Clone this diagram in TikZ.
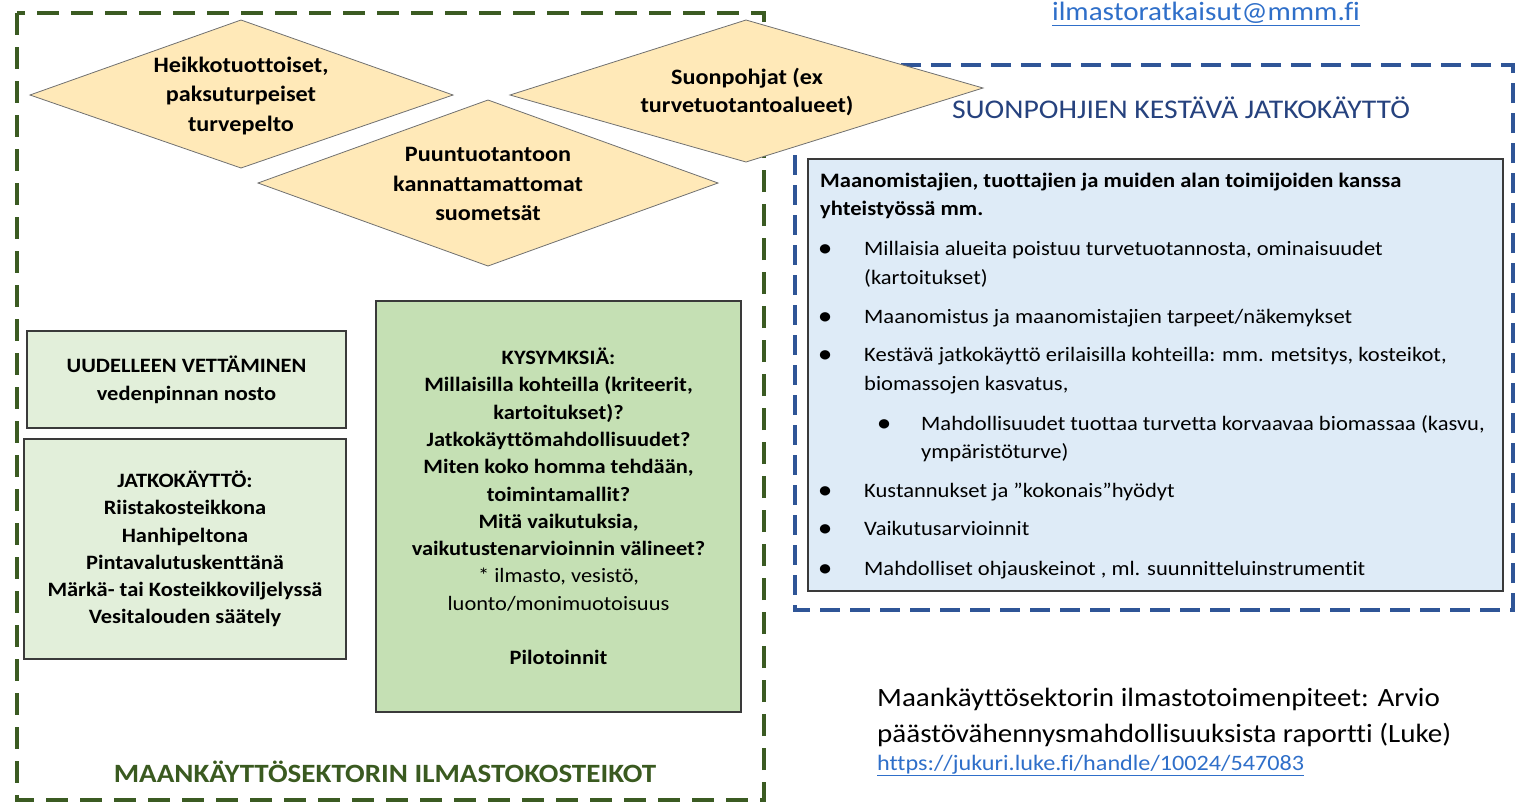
\documentclass[tikz,border=0pt]{standalone}
\usepackage{fontspec}
\setmainfont{Carlito}[FakeStretch=1.1,Ligatures={NoCommon}]
\definecolor{GreenLine}{HTML}{3B5B22}
\definecolor{GreenTitle}{HTML}{3A5A20}
\definecolor{BlueLine}{HTML}{2F5597}
\definecolor{BlueTitle}{HTML}{26427E}
\definecolor{DiaFill}{HTML}{FFE9B8}
\definecolor{DiaLine}{HTML}{707070}
\definecolor{LightGreen}{HTML}{E2EFDA}
\definecolor{MidGreen}{HTML}{C5E0B4}
\definecolor{LightBlue}{HTML}{DEEBF7}
\definecolor{BoxLine}{HTML}{3A3A3A}
\definecolor{LinkBlue}{HTML}{2F6FC9}
\begin{document}
\begin{tikzpicture}[x=1pt,y=-1pt,
  gdash/.style={draw=GreenLine,line width=4pt,dash pattern=on 22pt off 12pt},
  bdash/.style={draw=BlueLine,line width=3.5pt,dash pattern=on 20pt off 10pt},
  dia/.style={fill=DiaFill,draw=DiaLine,line width=0.8pt},
  diatext/.style={align=center,inner sep=0pt,font=\fontsize{22}{29.5}\selectfont\bfseries},
  panel/.style={draw=BoxLine,line width=1.2pt,inner sep=0pt},
  boxtext/.style={align=center,inner sep=0pt,font=\fontsize{20.4}{27.3}\selectfont\bfseries},
  itemtext/.style={anchor=base west,inner sep=0pt,font=\fontsize{20.5}{29}\selectfont},
  bul/.style={anchor=base west,inner sep=0pt,font=\fontsize{22}{29}\selectfont\bfseries}
]
\useasboundingbox (0,0) rectangle (1517,804);

% outer dashed frames
\draw[gdash] (17,13) rectangle (764,800);
\draw[bdash] (795,65) rectangle (1513,610);

% diamonds 1 and 2
\filldraw[dia] (30,95) -- (241,20) -- (453,95) -- (241,168) -- cycle;
\node[diatext] (d1) at (241,96) {Heikkotuottoiset,\\paksuturpeiset\\turvepelto};
\filldraw[dia] (258,183) -- (488,100) -- (718,183) -- (488,266) -- cycle;
\node[diatext] (d2) at (488,184) {Puuntuotantoon\\kannattamattomat\\suometsät};

% green panels
\node[panel,fill=LightGreen,minimum width=319pt,minimum height=97pt] (uv) at (186.5,379.5) {};
\node[boxtext,font=\fontsize{20.4}{28}\selectfont\bfseries] (uvt) at (uv.center) {UUDELLEEN VETTÄMINEN\\vedenpinnan nosto};
\node[panel,fill=LightGreen,minimum width=322pt,minimum height=220pt] (jk) at (185,549) {};
\node[boxtext] (jkt) at (jk.center) {JATKOKÄYTTÖ:\\Riistakosteikkona\\Hanhipeltona\\Pintavalutuskenttänä\\Märkä- tai Kosteikkoviljelyssä\\Vesitalouden säätely};
\node[panel,fill=MidGreen,minimum width=365pt,minimum height=411pt] (ky) at (558.5,506.5) {};
\node[boxtext] (kyt) at (ky.center) {KYSYMKSIÄ:\\Millaisilla kohteilla (kriteerit,\\kartoitukset)?\\Jatkokäyttömahdollisuudet?\\Miten koko homma tehdään,\\toimintamallit?\\Mitä vaikutuksia,\\vaikutustenarvioinnin välineet?\\{\mdseries * ilmasto, vesistö,}\\{\mdseries luonto/monimuotoisuus}\\[27.3pt]Pilotoinnit};

\node[inner sep=0pt,text=GreenTitle,font=\fontsize{26.4}{30}\selectfont\bfseries] (gtitle) at (385,772) {MAANKÄYTTÖSEKTORIN ILMASTOKOSTEIKOT};

% blue panel
\node[panel,fill=LightBlue,minimum width=695pt,minimum height=432pt] (bp) at (1155.5,375) {};
\node[inner sep=0pt,text=BlueTitle,font=\fontsize{27}{30}\selectfont] (btitle) at (1181,108) {SUONPOHJIEN KESTÄVÄ JATKOKÄYTTÖ};

\node[itemtext,font=\fontsize{20.5}{29}\selectfont\bfseries] (h1) at (820,187) {Maanomistajien, tuottajien ja muiden alan toimijoiden kanssa};
\node[itemtext,font=\fontsize{20.5}{29}\selectfont\bfseries] (h2) at (820,215) {yhteistyössä mm.};

\node[bul] (b1) at (819,255) {•};
\node[itemtext] (i1a) at (864,255) {Millaisia alueita poistuu turvetuotannosta, ominaisuudet};
\node[itemtext] (i1b) at (864,284) {(kartoitukset)};
\node[bul] (b2) at (819,323) {•};
\node[itemtext] (i2) at (864,323) {Maanomistus ja maanomistajien tarpeet/näkemykset};
\node[bul] (b3) at (819,361) {•};
\node[itemtext] (i3a) at (864,361) {Kestävä jatkokäyttö erilaisilla kohteilla: mm. metsitys, kosteikot,};
\node[itemtext] (i3b) at (864,390) {biomassojen kasvatus,};
\node[bul] (b4) at (878,430) {•};
\node[itemtext] (i4a) at (921,430) {Mahdollisuudet tuottaa turvetta korvaavaa biomassaa (kasvu,};
\node[itemtext] (i4b) at (921,458) {ympäristöturve)};
\node[bul] (b5) at (819,497) {•};
\node[itemtext] (i5) at (864,497) {Kustannukset ja ”kokonais”hyödyt};
\node[bul] (b6) at (819,535) {•};
\node[itemtext] (i6) at (864,535) {Vaikutusarvioinnit};
\node[bul] (b7) at (819,575) {•};
\node[itemtext] (i7) at (864,575) {Mahdolliset ohjauskeinot , ml. suunnitteluinstrumentit};

% diamond 3 on top
\filldraw[dia] (510,95) -- (746,20) -- (983,88) -- (746,162) -- cycle;
\node[diatext,font=\fontsize{22}{28}\selectfont\bfseries] (d3) at (747,92) {Suonpohjat (ex\\turvetuotantoalueet)};

% email and reference
\node[inner sep=0pt,text=LinkBlue,font=\fontsize{26.5}{30}\selectfont] (mail) at (1206,14) {\underline{ilmastoratkaisut@mmm.fi}};
\node[itemtext,font=\fontsize{26.4}{36}\selectfont] (r1) at (877,706) {Maankäyttösektorin ilmastotoimenpiteet: Arvio};
\node[itemtext,font=\fontsize{26.4}{36}\selectfont] (r2) at (877,742) {päästövähennysmahdollisuuksista raportti (Luke)};
\node[itemtext,text=LinkBlue,font=\fontsize{22}{24}\selectfont] (url) at (877,770) {\underline{https://jukuri.luke.fi/handle/10024/547083}};
\end{tikzpicture}
\end{document}
